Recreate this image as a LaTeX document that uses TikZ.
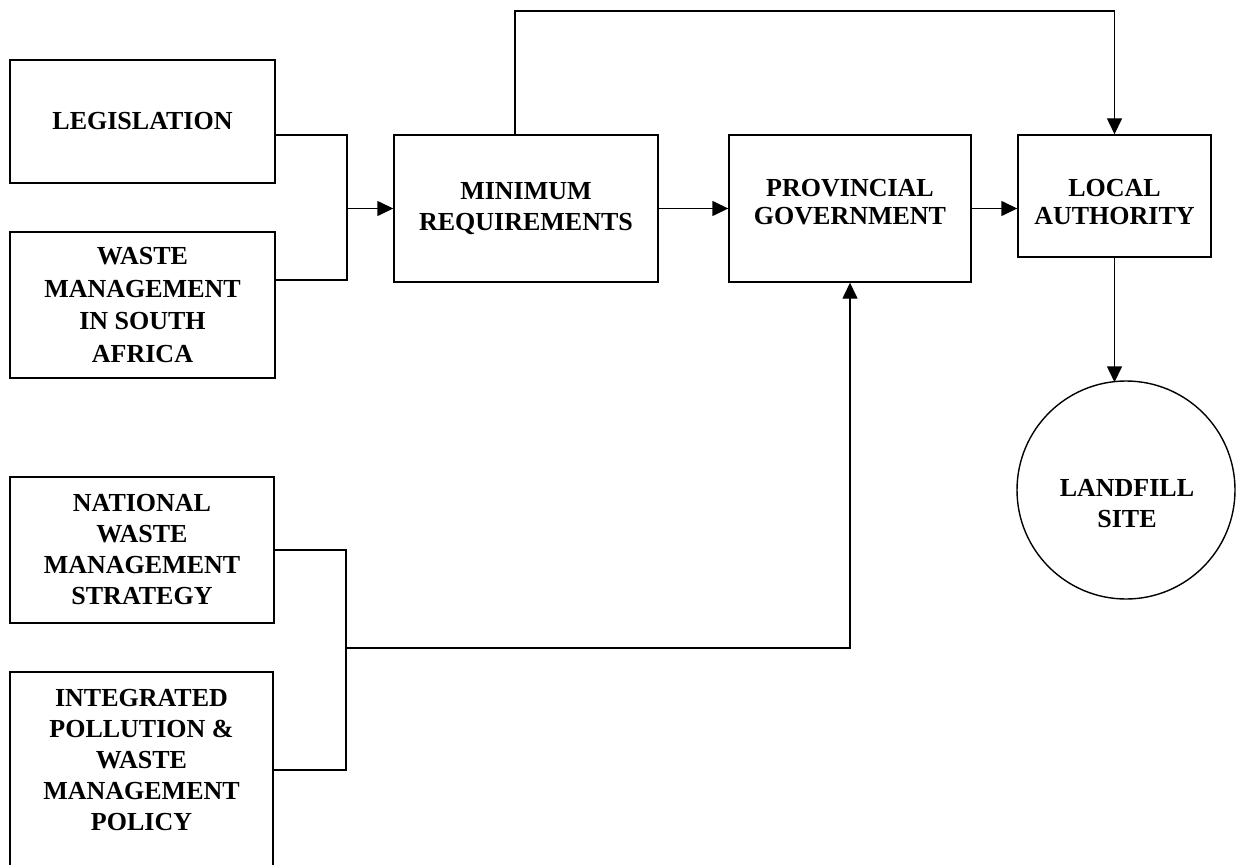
\documentclass[tikz,border=0pt]{standalone}
\usepackage{fontspec}
\setmainfont{Liberation Serif}
\usetikzlibrary{arrows.meta,calc}
\tikzset{
  box/.style={draw, line width=1.4pt, inner sep=0pt, align=center, font=\fontsize{26}{31}\selectfont\bfseries},
  plain/.style={inner sep=0pt, align=center, font=\fontsize{26}{31}\selectfont\bfseries},
  conn/.style={line width=1.4pt},
  arr/.style={line width=1.4pt, -{Triangle[length=16pt,width=15pt]}}
}
\begin{document}
\begin{tikzpicture}[x=1pt,y=-1pt]
\useasboundingbox (0,0) rectangle (1241,864);
\node[box, minimum width=265pt, minimum height=123pt] (leg) at (142.5,121.5) {LEGISLATION};
\node[box, minimum width=265pt, minimum height=146pt, font=\fontsize{26}{32.5}\selectfont\bfseries] (wms) at (142.5,305) {WASTE\\MANAGEMENT\\IN SOUTH\\AFRICA};
\node[box, minimum width=264pt, minimum height=147pt] (minreq) at (526,208.5) {MINIMUM\\REQUIREMENTS};
\node[box, minimum width=242pt, minimum height=147pt] (prov) at (850,208.5) {};
\node[plain, font=\fontsize{26}{28}\selectfont\bfseries] (provtext) at (850,202) {PROVINCIAL\\GOVERNMENT};
\node[box, minimum width=193pt, minimum height=122pt] (local) at (1114.5,196) {};
\node[plain, font=\fontsize{26}{28}\selectfont\bfseries] (localtext) at (1114.5,202) {LOCAL\\AUTHORITY};
\node[box, circle, minimum size=218pt] (landfill) at (1126,490) {};
\node[plain] (landfilltext) at (1127,504) {LANDFILL\\SITE};
\node[box, minimum width=264pt, minimum height=146pt] (nwms) at (142,550) {NATIONAL\\WASTE\\MANAGEMENT\\STRATEGY};
\node[draw, line width=1.4pt, inner sep=0pt, minimum width=263pt, minimum height=240pt] (ipwm) at (141.5,792) {};
\node[plain] (ipwmtext) at (141.5,760) {INTEGRATED\\POLLUTION \&\\WASTE\\MANAGEMENT\\POLICY};

\coordinate (j1) at (347,208.5);
\coordinate (j2) at (346,648);
\coordinate (topy) at (0,11);

\draw[conn] ([yshift=-13.5pt]leg.east) -| (j1) |- ([yshift=25pt]wms.east);
\draw[arr] (j1) -- (minreq.west);
\draw[arr] ([xshift=-11pt]minreq.north) |- (topy -| local.north) -- (local.north);
\draw[arr] (minreq.east) -- (prov.west);
\draw[arr] (prov.east) -- (prov.east -| local.west);
\draw[arr] (local.south) -- ($(local.south |- landfill.north)+(0,2)$);
\draw[conn] (nwms.east) -| (j2) |- ([yshift=22pt]ipwm.east);
\draw[arr] (j2) -| (prov.south);
\end{tikzpicture}
\end{document}
